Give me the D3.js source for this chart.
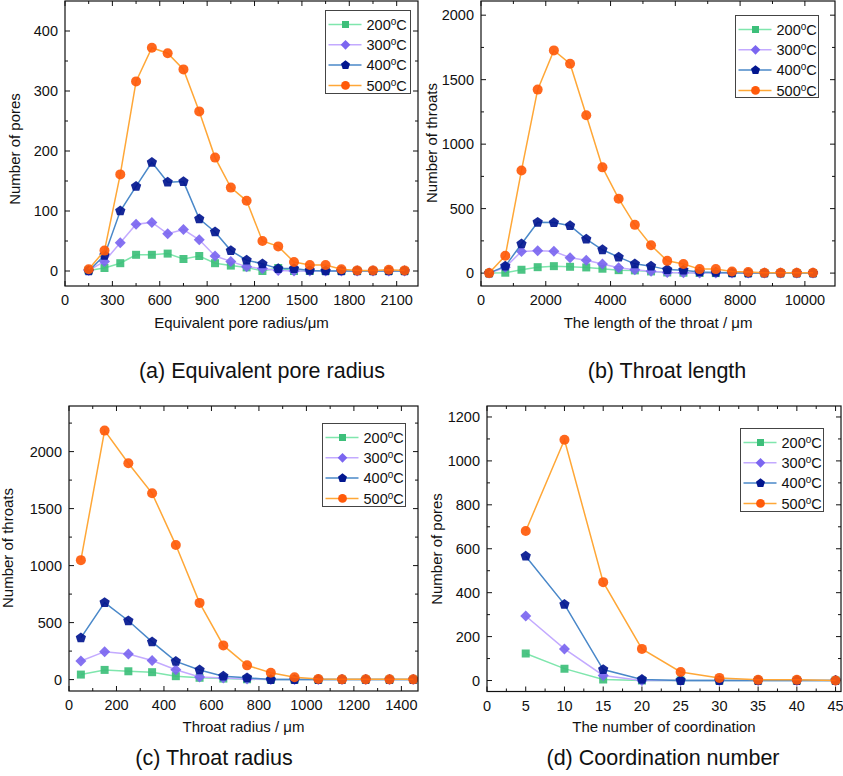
<!DOCTYPE html>
<html><head><meta charset="utf-8">
<script src="https://cdn.jsdelivr.net/npm/d3@7"></script>
<style>body{margin:0;background:#fff}svg{display:block}text{font-family:"Liberation Sans",Arial,sans-serif;fill:#111}</style>
</head><body>
<script>
// ---------- data ----------
const seriesNames = ["200", "300", "400", "500"];

const poreRadiusX = [150,250,350,450,550,650,750,850,950,1050,1150,1250,1350,1450,1550,1650,1750,1850,1950,2050,2150];
const poreRadius200 = [1,5,13,27,27,29,20,25,13,9,6,0,5,0,0,0,0,0,0,0,0];
const poreRadius300 = [1,16,47,78,81,62,69,52,25,16,7,4,1,0,0,0,0,0,0,0,0];
const poreRadius400 = [0,26,100,141,181,148,149,87,65,34,18,12,4,4,1,0,0,0,0,0,0];
const poreRadius500 = [3,34,161,316,372,363,336,266,189,139,117,50,41,15,10,10,3,1,1,2,1];

const throatLengthX = [250,750,1250,1750,2250,2750,3250,3750,4250,4750,5250,5750,6250,6750,7250,7750,8250,8750,9250,9750,10250];
const throatLength200 = [0,3,26,46,54,49,44,34,23,21,13,5,3,1,0,0,0,0,0,0,0];
const throatLength300 = [0,45,168,173,170,119,100,70,41,26,15,5,2,1,0,0,0,0,0,0,0];
const throatLength400 = [0,54,226,394,392,368,264,181,124,72,54,27,23,9,5,2,0,0,0,0,0];
const throatLength500 = [0,134,796,1423,1727,1624,1224,820,577,374,216,95,70,31,31,13,8,3,3,3,3];

const throatRadiusX = [50,150,250,350,450,550,650,750,850,950,1050,1150,1250,1350,1450];
const throatRadius200 = [44,85,73,65,30,16,9,3,0,0,0,0,0,0,0];
const throatRadius300 = [163,245,225,168,86,23,15,6,0,0,0,0,0,0,0];
const throatRadius400 = [366,676,516,331,160,85,30,16,0,0,0,0,0,0,0];
const throatRadius500 = [1048,2184,1898,1634,1180,673,300,125,60,20,6,2,2,2,2];

const coordX = [5,10,15,20,25,30,35,40,45];
const coord200 = [123,54,5,0,0,0,0,0,0];
const coord300 = [294,144,23,0,0,0,0,0,0];
const coord400 = [566,347,50,5,0,0,0,0,0];
const coord500 = [681,1096,448,144,39,12,3,3,0];

const ticksA_x = [0,300,600,900,1200,1500,1800,2100];
const ticksA_y = [0,100,200,300,400];
const ticksB_x = [0,2000,4000,6000,8000,10000];
const ticksB_y = [0,500,1000,1500,2000];
const ticksC_x = [0,200,400,600,800,1000,1200,1400];
const ticksC_y = [0,500,1000,1500,2000];
const ticksD_x = [0,5,10,15,20,25,30,35,40,45];
const ticksD_y = [0,200,400,600,800,1000,1200];

// ---------- styles ----------
const lineColors = ["#7fe6ad", "#c3aaff", "#4a88c9", "#ffa737"];
const markColors = ["#3dbf7a", "#7b66f0", "#02168f", "#ff5a0a"];
const markShapes = ["square", "diamond", "pentagon", "circle"];

const W = 843, H = 776;
const svg = d3.select("body").append("svg").attr("width", W).attr("height", H);

function shapePath(type, s) {
  if (type === "square") { const h = s * 0.8; return `M${-h},${-h}H${h}V${h}H${-h}Z`; }
  if (type === "diamond") { const h = s * 1.1; return `M0,${-h}L${h},0L0,${h}L${-h},0Z`; }
  if (type === "pentagon") {
    const r = s * 1.08; let p = "";
    for (let i = 0; i < 5; i++) { const a = -Math.PI / 2 + i * 2 * Math.PI / 5; p += (i ? "L" : "M") + (r * Math.cos(a)).toFixed(2) + "," + (r * Math.sin(a)).toFixed(2); }
    return p + "Z";
  }
  return d3.symbol(d3.symbolCircle, Math.PI * s * s)();
}

const TICK_FS = 14.5, TITLE_FS = 15, CAP_FS = 21.5, LEG_FS = 14.5;

function panel(cfg) {
  const g = svg.append("g");
  const x = d3.scaleLinear().domain(cfg.xDomain).range([cfg.left, cfg.right]);
  const y = d3.scaleLinear().domain(cfg.yDomain).range([cfg.bottom, cfg.top]);
  const clipId = "clip" + cfg.id;
  svg.append("clipPath").attr("id", clipId).append("rect")
    .attr("x", cfg.left).attr("y", cfg.top).attr("width", cfg.right - cfg.left).attr("height", cfg.bottom - cfg.top);

  const xMinor = [], yMinor = [];
  for (let i = 0; i < cfg.xTicks.length; i++) {
    const v = cfg.xTicks[i] + cfg.xMinorStep;
    if (v < cfg.xDomain[1]) xMinor.push(v);
  }
  for (let i = 0; i < cfg.yTicks.length; i++) {
    const v = cfg.yTicks[i] + cfg.yMinorStep;
    if (v < cfg.yDomain[1]) yMinor.push(v);
  }
  const T = 5, t = 3;
  const tickG = g.append("g").attr("stroke", "#111").attr("stroke-width", 1);
  function vt(vals, len) {
    vals.forEach(v => {
      const px = x(v);
      tickG.append("line").attr("x1", px).attr("x2", px).attr("y1", cfg.bottom).attr("y2", cfg.bottom - len);
      tickG.append("line").attr("x1", px).attr("x2", px).attr("y1", cfg.top).attr("y2", cfg.top + len);
    });
  }
  function ht(vals, len) {
    vals.forEach(v => {
      const py = y(v);
      tickG.append("line").attr("y1", py).attr("y2", py).attr("x1", cfg.left).attr("x2", cfg.left + len);
      tickG.append("line").attr("y1", py).attr("y2", py).attr("x1", cfg.right).attr("x2", cfg.right - len);
    });
  }
  vt(cfg.xTicks, T); vt(xMinor, t); ht(cfg.yTicks, T); ht(yMinor, t);

  g.selectAll(".xl").data(cfg.xTicks).join("text")
    .attr("x", d => x(d)).attr("y", cfg.bottom + 14).attr("dy", "0.36em")
    .attr("text-anchor", "middle").attr("font-size", TICK_FS).text(d => d);
  g.selectAll(".yl").data(cfg.yTicks).join("text")
    .attr("x", cfg.left - 7).attr("y", d => y(d)).attr("dy", "0.36em")
    .attr("text-anchor", "end").attr("font-size", TICK_FS).text(d => d);

  const dg = g.append("g").attr("clip-path", `url(#${clipId})`);
  cfg.series.forEach((vals, si) => {
    const pts = cfg.xs.map((xv, i) => [xv, vals[i]]);
    dg.append("path").attr("d", d3.line().x(d => x(d[0])).y(d => y(d[1]))(pts))
      .attr("fill", "none").attr("stroke", lineColors[si]).attr("stroke-width", 1.5);
    dg.selectAll(null).data(pts).join("path")
      .attr("transform", d => `translate(${x(d[0])},${y(d[1])})`)
      .attr("d", shapePath(markShapes[si], 5))
      .attr("fill", markColors[si]).attr("fill-opacity", 0.92);
  });

  g.append("rect").attr("x", cfg.left).attr("y", cfg.top).attr("width", cfg.right - cfg.left)
    .attr("height", cfg.bottom - cfg.top).attr("fill", "none").attr("stroke", "#111").attr("stroke-width", 1.2);

  const L = cfg.legend;
  g.append("rect").attr("x", L.x).attr("y", L.y).attr("width", L.w).attr("height", L.h)
    .attr("fill", "#fff").attr("stroke", "#444").attr("stroke-width", 1);
  seriesNames.forEach((nm, si) => {
    const ey = L.y + 14 + si * 20.3;
    g.append("line").attr("x1", L.x + 3).attr("x2", L.x + 36).attr("y1", ey).attr("y2", ey)
      .attr("stroke", lineColors[si]).attr("stroke-width", 1.5);
    g.append("path").attr("transform", `translate(${L.x + 20},${ey})`).attr("d", shapePath(markShapes[si], 4.4))
      .attr("fill", markColors[si]);
    const tx = g.append("text").attr("x", L.x + 41).attr("y", ey + 5.2).attr("font-size", LEG_FS);
    tx.append("tspan").text(nm);
    tx.append("tspan").attr("font-size", 10).attr("dy", -5).text("o");
    tx.append("tspan").attr("dy", 5).attr("font-size", LEG_FS).text("C");
  });

  g.append("text").attr("transform", `translate(${cfg.yTitleX},${cfg.yTitleY}) rotate(-90)`)
    .attr("text-anchor", "middle").attr("dy", "0.36em").attr("font-size", TITLE_FS).text(cfg.yTitle);
  g.append("text").attr("x", (cfg.left + cfg.right) / 2).attr("y", cfg.xTitleY).attr("dy", "0.36em")
    .attr("text-anchor", "middle").attr("font-size", TITLE_FS).text(cfg.xTitle);
  g.append("text").attr("x", cfg.capX).attr("y", cfg.capY).attr("dy", "0.36em")
    .attr("text-anchor", "middle").attr("font-size", CAP_FS).text(cfg.caption);
}

panel({
  id: "a", left: 65, right: 418, top: 1, bottom: 286,
  xDomain: [0, 2235], yDomain: [-25, 450],
  xTicks: ticksA_x, yTicks: ticksA_y, xMinorStep: 150, yMinorStep: 50,
  xs: poreRadiusX, series: [poreRadius200, poreRadius300, poreRadius400, poreRadius500],
  legend: { x: 325.5, y: 10.5, w: 85, h: 83 },
  yTitle: "Number of pores", yTitleX: 15, yTitleY: 149,
  xTitle: "Equivalent pore radius/μm", xTitleY: 323,
  caption: "(a) Equivalent pore radius", capX: 262, capY: 370
});

panel({
  id: "b", left: 481, right: 835, top: 1, bottom: 286,
  xDomain: [0, 10930], yDomain: [-100, 2110],
  xTicks: ticksB_x, yTicks: ticksB_y, xMinorStep: 1000, yMinorStep: 250,
  xs: throatLengthX, series: [throatLength200, throatLength300, throatLength400, throatLength500],
  legend: { x: 735.5, y: 15.5, w: 83, h: 82 },
  yTitle: "Number of throats", yTitleX: 432, yTitleY: 143,
  xTitle: "The length of the throat / μm", xTitleY: 323,
  caption: "(b) Throat length", capX: 667, capY: 370
});

panel({
  id: "c", left: 69, right: 418, top: 406, bottom: 691,
  xDomain: [0, 1470], yDomain: [-100, 2400],
  xTicks: ticksC_x, yTicks: ticksC_y, xMinorStep: 100, yMinorStep: 250,
  xs: throatRadiusX, series: [throatRadius200, throatRadius300, throatRadius400, throatRadius500],
  legend: { x: 322.5, y: 423.5, w: 83, h: 83 },
  yTitle: "Number of throats", yTitleX: 8, yTitleY: 548,
  xTitle: "Throat radius / μm", xTitleY: 727,
  caption: "(c) Throat radius", capX: 214, capY: 757
});

panel({
  id: "d", left: 487, right: 841, top: 406, bottom: 691.5,
  xDomain: [0, 45.7], yDomain: [-50, 1250],
  xTicks: ticksD_x, yTicks: ticksD_y, xMinorStep: 2.5, yMinorStep: 100,
  xs: coordX, series: [coord200, coord300, coord400, coord500],
  legend: { x: 740.5, y: 428.5, w: 83, h: 83 },
  yTitle: "Number of pores", yTitleX: 437, yTitleY: 549,
  xTitle: "The number of coordination", xTitleY: 727,
  caption: "(d) Coordination number", capX: 663, capY: 757
});
</script>
</body></html>
